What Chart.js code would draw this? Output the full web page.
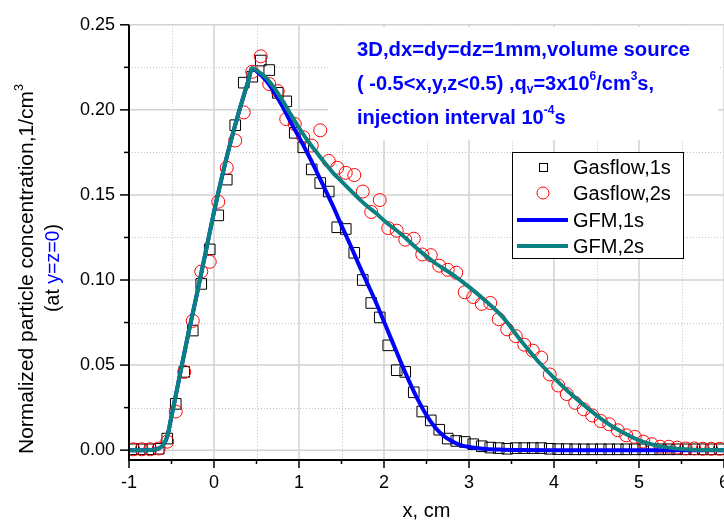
<!DOCTYPE html>
<html lang="en">
<head>
  <meta charset="UTF-8">
  <title>Gasflow vs GFM</title>
  <script src="https://cdn.jsdelivr.net/npm/chart.js@4.4.0/dist/chart.umd.min.js"></script>
  <style>
    html, body { margin: 0; padding: 0; background: #fff; }
    #wrap { width: 724px; height: 525px; }
  </style>
</head>
<body>
<div id="wrap"><canvas id="chart" width="724" height="525"></canvas></div>
<script>
  // Gasflow cell centres (dx = 1 mm)
  var gasX = [-0.95, -0.85, -0.75, -0.65, -0.55, -0.45, -0.35, -0.25, -0.15, -0.05,
    0.05, 0.15, 0.25, 0.35, 0.45, 0.55, 0.65, 0.75, 0.85, 0.95,
    1.05, 1.15, 1.25, 1.35, 1.45, 1.55, 1.65, 1.75, 1.85, 1.95,
    2.05, 2.15, 2.25, 2.35, 2.45, 2.55, 2.65, 2.75, 2.85, 2.95,
    3.05, 3.15, 3.25, 3.35, 3.45, 3.55, 3.65, 3.75, 3.85, 3.95,
    4.05, 4.15, 4.25, 4.35, 4.45, 4.55, 4.65, 4.75, 4.85, 4.95,
    5.05, 5.15, 5.25, 5.35, 5.45, 5.55, 5.65, 5.75, 5.85, 5.95];

  var gasflow1s = [0.0005, 0.0005, 0.0005, 0.0008, 0.0068, 0.0272, 0.046, 0.0703, 0.0977, 0.118,
    0.138, 0.159, 0.191, 0.216, 0.2195, 0.229, 0.2234, 0.210, 0.205, 0.1865,
    0.178, 0.165, 0.157, 0.152, 0.131, 0.130, 0.116, 0.100, 0.0865, 0.078,
    0.0616, 0.047, 0.046, 0.034, 0.0227, 0.0175, 0.012, 0.0068, 0.0054, 0.0048,
    0.0035, 0.0023, 0.0015, 0.0012, 0.0008, 0.0012, 0.0012, 0.0012, 0.0012, 0.0008,
    0.0006, 0.0006, 0.0005, 0.0005, 0.0005, 0.0005, 0.0005, 0.0005, 0.0005, 0.0005,
    0.0005, 0.0005, 0.0005, 0.0005, 0.0005, 0.0005, 0.0005, 0.0005, 0.0005, 0.0005];

  var gasflow2s = [0.0005, 0.0005, 0.0005, 0.001, 0.005, 0.0227, 0.046, 0.076, 0.105, 0.1107,
    0.146, 0.166, 0.182, 0.1985, 0.2224, 0.2315, 0.2152, 0.211, 0.1946, 0.1917,
    0.184, 0.179, 0.188, 0.170, 0.166, 0.163, 0.1617, 0.152, 0.140, 0.147,
    0.1305, 0.129, 0.1237, 0.1243, 0.115, 0.1146, 0.1084, 0.106, 0.1043, 0.0928,
    0.090, 0.086, 0.0865, 0.077, 0.071, 0.067, 0.062, 0.0585, 0.0544, 0.0445,
    0.038, 0.033, 0.0278, 0.024, 0.0204, 0.0171, 0.0152, 0.0117, 0.0087, 0.0078,
    0.005, 0.0035, 0.002, 0.002, 0.0015, 0.001, 0.001, 0.0008, 0.0008, 0.0008];

  var gfm1X = [-1, -0.8, -0.7, -0.65, -0.6, -0.55, -0.5, -0.45, -0.4, -0.3, -0.2, -0.1, 0, 0.1, 0.2, 0.3, 0.4, 0.45,
    0.5, 0.6, 0.7, 0.8, 0.9, 1.0, 1.1, 1.2, 1.3, 1.4, 1.5, 1.6, 1.7, 1.8, 1.9, 2.0,
    2.1, 2.2, 2.3, 2.4, 2.5, 2.6, 2.7, 2.8, 2.9, 3.0, 3.2, 3.4, 3.6, 4.0, 5.0, 6.0];
  var gfm1s = [0, 0, 0.0003, 0.001, 0.003, 0.008, 0.02, 0.032, 0.0445, 0.069, 0.092, 0.116, 0.140, 0.162, 0.182, 0.200, 0.2165, 0.2244,
    0.2228, 0.218, 0.211, 0.2025, 0.193, 0.184, 0.1745, 0.1645, 0.154, 0.1435, 0.132, 0.121, 0.1095, 0.0985, 0.0875, 0.0755,
    0.0635, 0.0515, 0.040, 0.0295, 0.0205, 0.0135, 0.0085, 0.0052, 0.003, 0.0018, 0.0007, 0.0003, 0.0001, 0, 0, 0];

  var gfm2X = [-1, -0.8, -0.7, -0.65, -0.6, -0.55, -0.5, -0.45, -0.4, -0.3, -0.2, -0.1, 0, 0.1, 0.2, 0.3, 0.4, 0.45,
    0.5, 0.6, 0.7, 0.8, 0.9, 1.0, 1.1, 1.2, 1.3, 1.4, 1.5, 1.6, 1.7, 1.8, 1.9, 2.0,
    2.2, 2.4, 2.6, 2.8, 3.0, 3.2, 3.4, 3.6, 3.8, 4.0, 4.2, 4.4, 4.6, 4.8, 5.0, 5.2, 5.4, 5.6, 5.8, 6.0];
  var gfm2s = [0, 0, 0.0003, 0.001, 0.003, 0.008, 0.02, 0.032, 0.0445, 0.069, 0.092, 0.116, 0.140, 0.162, 0.182, 0.200, 0.2165, 0.2244,
    0.2232, 0.2195, 0.2135, 0.206, 0.1975, 0.1895, 0.182, 0.1755, 0.169, 0.163, 0.158, 0.153, 0.148, 0.1435, 0.1395, 0.135,
    0.127, 0.118, 0.110, 0.1035, 0.096, 0.0875, 0.078, 0.065, 0.053, 0.0425, 0.0330, 0.0245, 0.0168, 0.0106, 0.0058, 0.0028,
    0.0012, 0.0004, 0.0001, 0];

  var xTicks = [-1, 0, 1, 2, 3, 4, 5, 6];
  var yTicks = [0, 0.05, 0.10, 0.15, 0.20, 0.25];

  var FONT = '"Liberation Sans", Arial, sans-serif';
  var BLUE = '#0000ff';
  var TEAL = '#0a8080';

  function pairs(xs, ys) {
    return xs.map(function (x, i) { return { x: x, y: ys[i] }; });
  }

  // draw a run of text pieces: [text, kind] where kind is '', 'sup' or 'sub'
  function richWidth(ctx, parts, size, weight) {
    var w = 0;
    parts.forEach(function (p) {
      var s = p[1] ? size * 0.6 : size;
      ctx.font = weight + ' ' + s + 'px ' + FONT;
      w += ctx.measureText(p[0]).width;
    });
    return w;
  }
  function drawRich(ctx, parts, x, y, size, weight, defColor) {
    ctx.textBaseline = 'middle';
    ctx.textAlign = 'left';
    parts.forEach(function (p) {
      var s = p[1] ? size * 0.6 : size;
      var dy = p[1] === 'sup' ? -size * 0.38 : (p[1] === 'sub' ? size * 0.3 : 0);
      ctx.font = weight + ' ' + s + 'px ' + FONT;
      ctx.fillStyle = p[2] || defColor;
      ctx.fillText(p[0], x, y + dy);
      x += ctx.measureText(p[0]).width;
    });
  }

  var decor = {
    id: 'decor',
    beforeDatasetsDraw: function (chart) {
      var ctx = chart.ctx, xs = chart.scales.x, ys = chart.scales.y, a = chart.chartArea;
      ctx.save();
      // minor grid (dotted)
      ctx.strokeStyle = '#c4c4c4';
      ctx.lineWidth = 1;
      ctx.setLineDash([1, 2]);
      for (var v = -0.5; v < 6; v += 1) {
        var px = Math.round(xs.getPixelForValue(v)) + 0.5;
        ctx.beginPath(); ctx.moveTo(px, a.top); ctx.lineTo(px, a.bottom); ctx.stroke();
      }
      for (var k = 0; k < 5; k++) {
        var py = Math.round(ys.getPixelForValue(0.025 + 0.05 * k)) + 0.5;
        ctx.beginPath(); ctx.moveTo(a.left, py); ctx.lineTo(a.right, py); ctx.stroke();
      }
      // major grid (solid)
      ctx.setLineDash([]);
      ctx.strokeStyle = '#d2d2d2';
      ctx.lineWidth = 1.5;
      xTicks.forEach(function (t) {
        var px = xs.getPixelForValue(t);
        ctx.beginPath(); ctx.moveTo(px, a.top); ctx.lineTo(px, a.bottom); ctx.stroke();
      });
      yTicks.forEach(function (t) {
        var py = ys.getPixelForValue(t);
        ctx.beginPath(); ctx.moveTo(a.left, py); ctx.lineTo(a.right, py); ctx.stroke();
      });
      // white boxes behind annotation and legend
      ctx.fillStyle = '#fff';
      ctx.fillRect(328, 27, 390, 113);
      ctx.fillRect(512, 152, 171, 106);
      ctx.restore();
    },
    afterDatasetsDraw: function (chart) {
      var ctx = chart.ctx, xs = chart.scales.x, ys = chart.scales.y, a = chart.chartArea;
      ctx.save();
      // axes
      ctx.strokeStyle = '#000';
      ctx.lineWidth = 2;
      ctx.beginPath();
      ctx.moveTo(a.left, a.top); ctx.lineTo(a.left, a.bottom + 1); ctx.lineTo(a.right, a.bottom + 1);
      ctx.stroke();
      ctx.lineWidth = 1.5;
      for (var i = 0; i <= 14; i++) {
        var xv = -1 + i * 0.5;
        var px = xs.getPixelForValue(xv);
        var len = (i % 2 === 0) ? 9 : 5;
        ctx.beginPath(); ctx.moveTo(px, a.bottom); ctx.lineTo(px, a.bottom + len); ctx.stroke();
      }
      for (var j = 0; j <= 10; j++) {
        var py = ys.getPixelForValue(j * 0.025);
        var l2 = (j % 2 === 0) ? 9 : 5;
        ctx.beginPath(); ctx.moveTo(a.left, py); ctx.lineTo(a.left - l2, py); ctx.stroke();
      }

      // axis titles
      ctx.fillStyle = '#000';
      ctx.font = '20px ' + FONT;
      ctx.textAlign = 'center';
      ctx.textBaseline = 'middle';
      ctx.fillText('x, cm', (a.left + a.right) / 2, 511);

      ctx.save();
      ctx.translate(27, 269);
      ctx.rotate(-Math.PI / 2);
      var t1 = [['Normalized particle concentration,1/cm', ''], ['3', 'sup']];
      drawRich(ctx, t1, -richWidth(ctx, t1, 21, 'normal') / 2, 0, 21, 'normal', '#000');
      ctx.restore();
      ctx.save();
      ctx.translate(54, 268);
      ctx.rotate(-Math.PI / 2);
      var t2 = [['(at ', ''], ['y=z=0', '', BLUE], [')', '']];
      drawRich(ctx, t2, -richWidth(ctx, t2, 19.5, 'normal') / 2, 0, 19.5, 'normal', '#000');
      ctx.restore();

      // annotation
      drawRich(ctx, [['3D,dx=dy=dz=1mm,volume source', '']], 357, 50, 20.3, 'bold', BLUE);
      drawRich(ctx, [['( -0.5<x,y,z<0.5) ,q', ''], ['v', 'sub'], ['=3x10', ''], ['6', 'sup'],
        ['/cm', ''], ['3', 'sup'], ['s,', '']], 357, 84, 20, 'bold', BLUE);
      drawRich(ctx, [['injection interval 10', ''], ['-4', 'sup'], ['s', '']], 357, 118, 20, 'bold', BLUE);

      // legend
      ctx.strokeStyle = '#000';
      ctx.lineWidth = 1;
      ctx.strokeRect(512.5, 152.5, 171, 106);
      var rows = [167, 193, 220, 246];
      ctx.lineWidth = 1;
      ctx.strokeStyle = '#000';
      ctx.strokeRect(539.5, 163.5, 8, 8);
      ctx.strokeStyle = '#ff0000';
      ctx.beginPath(); ctx.arc(543, 193, 6, 0, Math.PI * 2); ctx.stroke();
      [[BLUE, 220], [TEAL, 246]].forEach(function (r) {
        ctx.strokeStyle = r[0];
        ctx.lineWidth = 4;
        ctx.beginPath(); ctx.moveTo(517, r[1]); ctx.lineTo(568, r[1]); ctx.stroke();
      });
      ctx.fillStyle = '#000';
      ctx.font = '20px ' + FONT;
      ctx.textAlign = 'left';
      ctx.textBaseline = 'middle';
      ['Gasflow,1s', 'Gasflow,2s', 'GFM,1s', 'GFM,2s'].forEach(function (s, i) {
        ctx.fillText(s, 573, rows[i] + 1);
      });
      ctx.restore();
    }
  };

  var ctx = document.getElementById('chart').getContext('2d');
  var chart = new Chart(ctx, {
    type: 'scatter',
    data: {
      datasets: [
        {
          label: 'GFM,2s', data: pairs(gfm2X, gfm2s), showLine: true,
          borderColor: TEAL, borderWidth: 4, pointRadius: 0,
          cubicInterpolationMode: 'monotone', order: 0
        },
        {
          label: 'GFM,1s', data: pairs(gfm1X, gfm1s), showLine: true,
          borderColor: BLUE, borderWidth: 4, pointRadius: 0,
          cubicInterpolationMode: 'monotone', order: 1
        },
        {
          label: 'Gasflow,2s', data: pairs(gasX, gasflow2s), showLine: false,
          pointStyle: 'circle', pointRadius: 6.5, borderWidth: 1,
          borderColor: '#ff0000', backgroundColor: 'rgba(0,0,0,0)', order: 2
        },
        {
          label: 'Gasflow,1s', data: pairs(gasX, gasflow1s), showLine: false,
          pointStyle: 'rect', pointRadius: 7.5, borderWidth: 1,
          borderColor: '#000', backgroundColor: 'rgba(0,0,0,0)', order: 3
        }
      ]
    },
    options: {
      responsive: false,
      animation: false,
      events: [],
      layout: { autoPadding: false, padding: { top: 21, right: 0, left: 0, bottom: 0 } },
      plugins: { legend: { display: false }, tooltip: { enabled: false } },
      scales: {
        x: {
          type: 'linear', min: -1, max: 6,
          grid: { display: false, drawTicks: false },
          border: { display: false },
          afterBuildTicks: function (s) { s.ticks = xTicks.map(function (v) { return { value: v }; }); },
          afterFit: function (s) { s.height = 66; s.paddingLeft = 0; s.paddingRight = 0; },
          ticks: {
            autoSkip: false, maxRotation: 0, padding: 13, color: '#000',
            font: { family: FONT, size: 18 },
            callback: function (v) { return String(v); }
          }
        },
        y: {
          type: 'linear', min: -0.0052, max: 0.25,
          grid: { display: false, drawTicks: false },
          border: { display: false },
          afterBuildTicks: function (s) { s.ticks = yTicks.map(function (v) { return { value: v }; }); },
          afterFit: function (s) { s.width = 129; },
          ticks: {
            autoSkip: false, padding: 14, color: '#000',
            font: { family: FONT, size: 18 },
            callback: function (v) { return Number(v).toFixed(2); }
          }
        }
      }
    },
    plugins: [decor]
  });
</script>
</body>
</html>
